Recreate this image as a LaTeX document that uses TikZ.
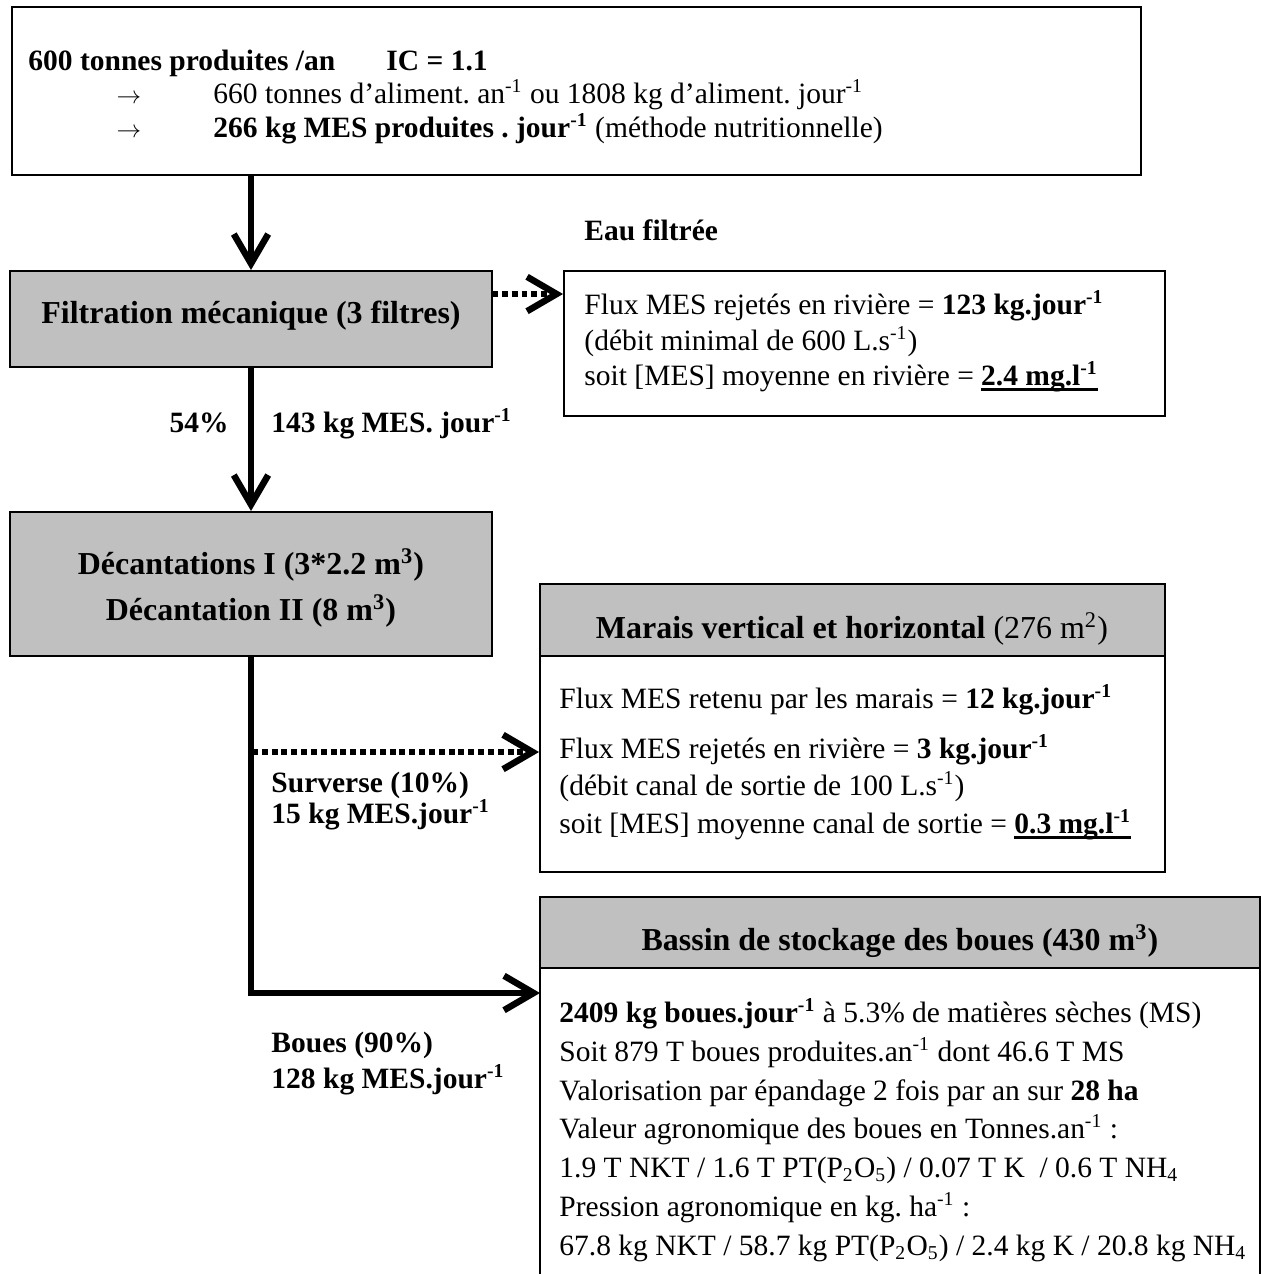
\documentclass[tikz,border=0pt]{standalone}
\usepackage{fontspec}
\setmainfont{Liberation Serif}
\usetikzlibrary{arrows.meta,fit}
\definecolor{hdrgray}{HTML}{C0C0C0}
\newcommand\thickul[1]{\setbox0\hbox{#1}\rlap{\rule[-2.6pt]{\wd0}{1.3pt}}\box0}
\frenchspacing
\begin{document}
\begin{tikzpicture}[x=0.4068pt,y=-0.4068pt,
  box/.style={draw=black,line width=0.8pt,inner sep=0pt},
  hdr/.style={box,fill=hdrgray},
  flow/.style={line width=2.65pt,-{Straight Barb[length=12pt,width=14pt,sharp]}},
  dotflow/.style={line width=2.3pt,dash pattern=on 2.4pt off 1.6pt,-{Straight Barb[length=12pt,width=14pt,sharp,line width=2.65pt]}},
  txt/.style={inner sep=0pt,anchor=base west,font=\fontsize{12}{14}\selectfont},
  btxt/.style={txt,font=\fontsize{12}{14}\selectfont\bfseries},
  ttl/.style={inner sep=0pt,anchor=base,font=\fontsize{13}{15}\selectfont\bfseries},
]
\clip (0,0) rectangle (1261,1274);
\fill[white] (0,0) rectangle (1261,1274);

% ---------- boxes ----------
\coordinate (t1) at (12,7);    \coordinate (t2) at (1141,175);
\node[box,fit=(t1)(t2)] (top) {};

\coordinate (f1) at (10,271);  \coordinate (f2) at (492,367);
\node[hdr,fit=(f1)(f2)] (filt) {};

\coordinate (r1) at (564,271); \coordinate (r2) at (1165,416);
\node[box,fit=(r1)(r2)] (riv) {};

\coordinate (d1) at (10,512);  \coordinate (d2) at (492,656);
\node[hdr,fit=(d1)(d2)] (dec) {};

\coordinate (m1) at (540,584); \coordinate (m2) at (1165,656); \coordinate (m3) at (1165,872);
\node[hdr,fit=(m1)(m2)] (marh) {};
\node[box,fit=(m1)(m3)] (mar) {};

\coordinate (b1) at (540,897); \coordinate (b2) at (1260,968); \coordinate (b3) at (1260,1320);
\node[hdr,fit=(b1)(b2)] (bash) {};
\node[box,fit=(b1)(b3)] (bas) {};

% ---------- connectors ----------
\draw[flow] (top.south -| filt.north) -- (filt.north);
\draw[flow] (filt.south) -- (dec.north);
\coordinate (fo) at (492,294);
\draw[dotflow] (fo) -- (fo -| riv.west);
\coordinate (sv) at (252,752);
\draw[dotflow] (sv) -- (sv -| mar.west);
\coordinate (bin) at (540,993);
\draw[flow] (dec.south) |- (bin);

% ---------- top box text ----------
\node[btxt] (t_l1a) at (28,70) {600 tonnes produites /an};
\node[btxt] (t_l1b) at (386,70) {IC = 1.1};
\node[inner sep=0pt,anchor=base] (t_a1) at (129,103) {$\rightarrow$};
\node[txt] (t_l2) at (213,103) {660 tonnes d’aliment. an\textsuperscript{-1} ou 1808 kg d’aliment. jour\textsuperscript{-1}};
\node[inner sep=0pt,anchor=base] (t_a2) at (129,137) {$\rightarrow$};
\node[txt] (t_l3) at (213,137) {\textbf{266 kg MES produites . jour\textsuperscript{-1}} (méthode nutritionnelle)};

% ---------- filtration ----------
\node[ttl] (filt_t) at (251,323) {Filtration mécanique (3 filtres)};
\node[btxt] (eau) at (584,240) {Eau filtrée};
\node[txt] (riv_l1) at (584,314) {Flux MES rejetés en rivière = \textbf{123 kg.jour\textsuperscript{-1}}};
\node[txt] (riv_l2) at (584,350) {(débit minimal de 600 L.s\textsuperscript{-1})};
\node[txt] (riv_l3) at (584,385) {soit [MES] moyenne en rivière = \thickul{\textbf{2.4 mg.l\textsuperscript{-1}}}};

\node[btxt,anchor=base east] (p54) at (229,432) {54\%};
\node[btxt] (f143) at (271,432) {143 kg MES. jour\textsuperscript{-1}};

% ---------- decantation ----------
\node[ttl] (dec_t1) at (251,574) {Décantations I (3*2.2 m\textsuperscript{3})};
\node[ttl] (dec_t2) at (251,620) {Décantation II (8 m\textsuperscript{3})};

% ---------- marais ----------
\node[ttl] (mar_t) at (852,638) {Marais vertical et horizontal \mdseries(276 m\textsuperscript{2})};
\node[txt] (mar_l1) at (559,708) {Flux MES retenu par les marais = \textbf{12 kg.jour\textsuperscript{-1}}};
\node[txt] (mar_l2) at (559,758) {Flux MES rejetés en rivière = \textbf{3 kg.jour\textsuperscript{-1}}};
\node[txt] (mar_l3) at (559,795) {(débit canal de sortie de 100 L.s\textsuperscript{-1})};
\node[txt] (mar_l4) at (559,833) {soit [MES] moyenne canal de sortie = \thickul{\textbf{0.3 mg.l\textsuperscript{-1}}}};

\node[btxt] (sv_l1) at (271,792) {Surverse (10\%)};
\node[btxt] (sv_l2) at (271,823) {15 kg MES.jour\textsuperscript{-1}};

% ---------- bassin ----------
\node[ttl] (bas_t) at (900,950) {Bassin de stockage des boues (430 m\textsuperscript{3})};
\node[btxt] (bo_l1) at (271,1052) {Boues (90\%)};
\node[btxt] (bo_l2) at (271,1088) {128 kg MES.jour\textsuperscript{-1}};

\node[txt] (bas_l1) at (559,1022) {\textbf{2409 kg boues.jour\textsuperscript{-1}} à 5.3\% de matières sèches (MS)};
\node[txt] (bas_l2) at (559,1061) {Soit 879 T boues produites.an\textsuperscript{-1} dont 46.6 T MS};
\node[txt] (bas_l3) at (559,1100) {Valorisation par épandage 2 fois par an sur \textbf{28 ha}};
\node[txt] (bas_l4) at (559,1138) {Valeur agronomique des boues en Tonnes.an\textsuperscript{-1} :};
\node[txt] (bas_l5) at (559,1177) {1.9 T NKT / 1.6 T PT(P\textsubscript{2}O\textsubscript{5}) / 0.07 T K ~/ 0.6 T NH\textsubscript{4}};
\node[txt] (bas_l6) at (559,1216) {Pression agronomique en kg. ha\textsuperscript{-1} :};
\node[txt] (bas_l7) at (559,1255) {67.8 kg NKT / 58.7 kg PT(P\textsubscript{2}O\textsubscript{5}) / 2.4 kg K / 20.8 kg NH\textsubscript{4}};
\end{tikzpicture}
\end{document}
